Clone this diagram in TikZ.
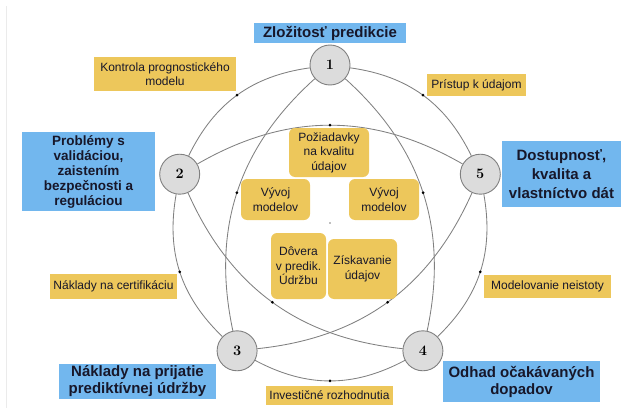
\documentclass[tikz,border=0pt]{standalone}
\usepackage{fontspec}
\setsansfont{Liberation Sans}
\usepackage{tikz}

\definecolor{topicblue}{HTML}{72B7EE}
\definecolor{issueyellow}{HTML}{EDC75B}
\definecolor{inktext}{HTML}{17172A}
\definecolor{ringgray}{HTML}{808080}
\definecolor{nodegray}{HTML}{DCDCDC}

\begin{document}
\begin{tikzpicture}[x=1pt, y=1pt,
    num/.style={circle, draw=ringgray, line width=0.9pt, fill=nodegray,
      minimum size=40pt, inner sep=0pt, font=\fontsize{14.5}{16}\selectfont\bfseries},
    topic/.style={fill=topicblue, text=inktext, align=center, inner sep=0pt,
      font=\sffamily\bfseries\fontsize{15}{17}\selectfont},
    issue/.style={fill=issueyellow, text=inktext, align=center, inner sep=0pt,
      font=\sffamily\fontsize{12}{14.5}\selectfont},
    core/.style={issue, rounded corners=6pt},
    smalldot/.style={circle, fill=black, inner sep=0pt, minimum size=3pt},
    centdot/.style={circle, fill=gray, inner sep=0pt, minimum size=1.6pt},
    link/.style={draw=ringgray, line width=0.85pt}
  ]
      \useasboundingbox (0,0) rectangle (621,408);
      \draw[black!8, line width=1pt] (6.5,0) -- (6.5,402);

      % pentagon of the five problem areas
      \node[centdot] (o) at (330,185) {};
      \node[num] (1) at (330,343) {1};
      \node[num] (2) at (179.7,233.8) {2};
      \node[num] (3) at (237.1,57.2) {3};
      \node[num] (4) at (422.9,57.2) {4};
      \node[num] (5) at (480.3,233.8) {5};

      % outer ring
      \draw[link] (1) to[bend right=28] node[smalldot] (d12) {} (2);
      \draw[link] (2) to[bend right=28] node[smalldot] (d23) {} (3);
      \draw[link] (3) to[bend right=28] node[smalldot] (d34) {} (4);
      \draw[link] (4) to[bend right=28] node[smalldot] (d45) {} (5);
      \draw[link] (5) to[bend right=28] node[smalldot] (d51) {} (1);

      % star
      \draw[link] (1) to[bend right=30] node[smalldot] (d13) {} (3);
      \draw[link] (3) to[bend right=30] node[smalldot] (d35) {} (5);
      \draw[link] (5) to[bend right=30] node[smalldot] (d52) {} (2);
      \draw[link] (2) to[bend right=30] node[smalldot] (d24) {} (4);
      \draw[link] (4) to[bend right=30] node[smalldot] (d41) {} (1);

      \node[topic, minimum width=152pt, minimum height=20pt] (complexity) at (330,375) {Zložitosť predikcie};
      \node[topic, minimum width=133pt, minimum height=79pt,
        font=\sffamily\bfseries\fontsize{13.5}{15}\selectfont] (validation) at (88.5,236.5)
        {Problémy s\\validáciou,\\zaistením\\bezpečnosti a\\reguláciou};
      \node[topic, minimum width=119pt, minimum height=66pt,
        font=\sffamily\bfseries\fontsize{15}{19}\selectfont] (access) at (561.5,234)
        {Dostupnosť,\\kvalita a\\vlastníctvo dát};
      \node[topic, minimum width=157pt, minimum height=35pt] (adoption) at (137.5,26.5)
        {Náklady na prijatie\\prediktívnej údržby};
      \node[topic, minimum width=157pt, minimum height=41pt] (impact) at (521.5,26.5)
        {Odhad očakávaných\\dopadov};

      \node[issue, minimum width=142pt, minimum height=34pt] (control) at (165,334) {Kontrola prognostického\\modelu};
      \node[issue, minimum width=99pt, minimum height=22pt] (dataaccess) at (476.5,323) {Prístup k údajom};
      \node[issue, minimum width=127pt, minimum height=25pt] (certif) at (113.5,121.5) {Náklady na certifikáciu};
      \node[issue, minimum width=127pt, minimum height=23pt] (uncert) at (547.5,121.5) {Modelovanie neistoty};
      \node[issue, minimum width=127pt, minimum height=19pt] (invest) at (329.5,12.5) {Investičné rozhodnutia};

      \node[core, minimum width=80pt, minimum height=49pt] (quality) at (329,255.5) {Požiadavky\\na kvalitu\\údajov};
      \node[core, minimum width=69pt, minimum height=41pt] (devleft) at (275.5,208.5) {Vývoj\\modelov};
      \node[core, minimum width=70pt, minimum height=41pt] (devright) at (384,208.5) {Vývoj\\modelov};
      \node[core, minimum width=55pt, minimum height=66pt] (trust) at (298.5,142) {Dôvera\\v predik.\\Údržbu};
      \node[core, minimum width=69pt, minimum height=60pt] (acquire) at (362.5,139) {Získavanie\\údajov};
    \end{tikzpicture}
\end{document}
